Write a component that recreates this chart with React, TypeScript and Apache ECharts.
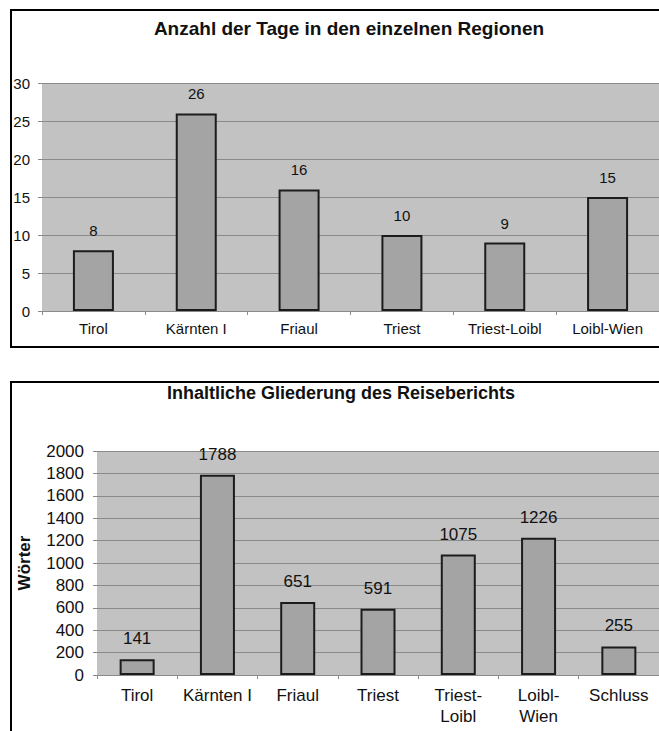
import React, { useEffect, useRef } from "react";
import * as echarts from "echarts";

const regions = ["Tirol", "Kärnten I", "Friaul", "Triest", "Triest-Loibl", "Loibl-Wien"];
const days = [8, 26, 16, 10, 9, 15];
const dayTicks = { min: 0, max: 30, interval: 5 };

const sections = ["Tirol", "Kärnten I", "Friaul", "Triest", "Triest-\nLoibl", "Loibl-\nWien", "Schluss"];
const words = [141, 1788, 651, 591, 1075, 1226, 255];
const wordTicks = { min: 0, max: 2000, interval: 200 };

const title1 = "Anzahl der Tage in den einzelnen Regionen";
const title2 = "Inhaltliche Gliederung des Reiseberichts";
const yName2 = "Wörter";

const FONT = "'Liberation Sans', Arial, sans-serif";
const GRID_LINE = "#8a8a8a";
const PLOT_BG = "#c2c2c2";
const BAR_FILL = "#a4a4a4";
const BAR_BORDER = "#1c1c1c";
const TEXT = "#111111";

export default function App() {
  const ref = useRef<HTMLDivElement>(null);
  useEffect(() => {
    if (!ref.current) return;
    const chart = echarts.init(ref.current, undefined, { renderer: "svg" });
    const yAxisCommon = {
      type: "value",
      axisLine: { show: false },
      axisTick: { show: true, length: 4, lineStyle: { color: GRID_LINE, width: 1 } },
      splitLine: { show: true, lineStyle: { color: GRID_LINE, width: 1 } },
    };
    const xAxisCommon = {
      type: "category",
      boundaryGap: true,
      axisLine: { show: true, lineStyle: { color: GRID_LINE, width: 1 } },
      axisTick: { show: true, length: 4, alignWithLabel: false, lineStyle: { color: GRID_LINE, width: 1 } },
    };
    const plain = (v: number) => String(v);
    chart.setOption({
      animation: false,
      backgroundColor: "#ffffff",
      title: [
        {
          text: title1,
          left: 344,
          top: 14,
          textAlign: "center",
          textStyle: { fontFamily: FONT, fontSize: 19, fontWeight: "bold", color: TEXT },
        },
        {
          text: title2,
          left: 336,
          top: 379,
          textAlign: "center",
          textStyle: { fontFamily: FONT, fontSize: 18, fontWeight: "bold", color: TEXT },
        },
      ],
      grid: [
        { left: 42, top: 83, right: -7, height: 228, show: true, backgroundColor: PLOT_BG, borderWidth: 0 },
        { left: 97, top: 451, right: -7, height: 224, show: true, backgroundColor: PLOT_BG, borderWidth: 0 },
      ],
      xAxis: [
        {
          ...xAxisCommon,
          gridIndex: 0,
          data: regions,
          axisLabel: { fontFamily: FONT, fontSize: 15, color: TEXT, margin: 10, interval: 0 },
        },
        {
          ...xAxisCommon,
          gridIndex: 1,
          data: sections,
          axisLabel: { fontFamily: FONT, fontSize: 17, color: TEXT, margin: 10, interval: 0, lineHeight: 21 },
        },
      ],
      yAxis: [
        {
          ...yAxisCommon,
          gridIndex: 0,
          ...dayTicks,
          axisLabel: { fontFamily: FONT, fontSize: 15, color: TEXT, margin: 12, formatter: plain },
        },
        {
          ...yAxisCommon,
          gridIndex: 1,
          ...wordTicks,
          name: yName2,
          nameLocation: "middle",
          nameGap: 64,
          nameRotate: 90,
          nameTextStyle: { fontFamily: FONT, fontSize: 17, fontWeight: "bold", color: TEXT },
          axisLabel: { fontFamily: FONT, fontSize: 17, color: TEXT, margin: 13, formatter: plain },
        },
      ],
      series: [
        {
          type: "bar",
          xAxisIndex: 0,
          yAxisIndex: 0,
          data: days,
          barWidth: 41,
          itemStyle: { color: BAR_FILL, borderColor: BAR_BORDER, borderWidth: 2 },
          label: { show: true, position: "top", distance: 12, fontFamily: FONT, fontSize: 15, color: TEXT },
        },
        {
          type: "bar",
          xAxisIndex: 1,
          yAxisIndex: 1,
          data: words,
          barWidth: 35,
          itemStyle: { color: BAR_FILL, borderColor: BAR_BORDER, borderWidth: 2 },
          label: { show: true, position: "top", distance: 12, fontFamily: FONT, fontSize: 17, color: TEXT },
        },
      ],
      graphic: [
        {
          type: "polyline",
          z: 100,
          silent: true,
          shape: { points: [[680, 10], [11, 10], [11, 347], [680, 347]] },
          style: { stroke: "#000", lineWidth: 2, fill: null },
        },
        {
          type: "polyline",
          z: 100,
          silent: true,
          shape: { points: [[680, 382], [11, 382], [11, 740]] },
          style: { stroke: "#000", lineWidth: 2, fill: null },
        },
      ],
    });
    return () => chart.dispose();
  }, []);
  return (
    <div
      ref={ref}
      style={{ position: "absolute", left: 0, top: 0, width: 659, height: 731 }}
    />
  );
}
